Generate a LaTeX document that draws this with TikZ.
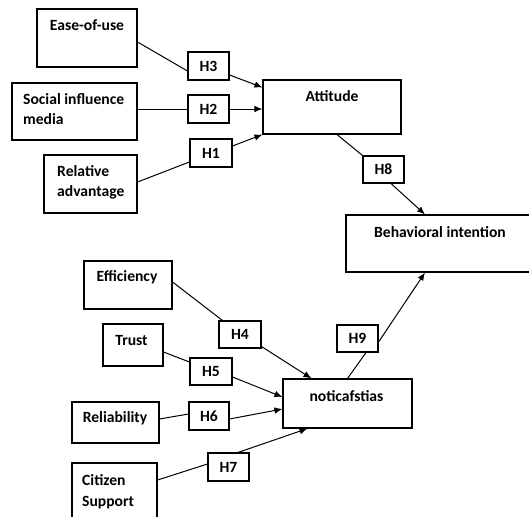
\documentclass[tikz,border=0pt]{standalone}
\usepackage{fontspec}
\setmainfont{Carlito}
\usetikzlibrary{arrows.meta}
\begin{document}
\begin{tikzpicture}[x=1pt,y=-1pt,
  box/.style={draw=black,line width=1.1pt,rectangle,inner sep=0pt},
  hbox/.style={draw=black,line width=1.1pt,rectangle,inner sep=0pt,minimum width=41pt,minimum height=28pt,font=\fontsize{15.6}{20}\selectfont\bfseries},
  txt/.style={inner sep=0pt,font=\fontsize{15.6}{20.5}\selectfont\bfseries},
  link/.style={draw=black,line width=1pt},
  arr/.style={draw=black,line width=1pt,-{Latex[length=8pt,width=6.5pt]}}]
\useasboundingbox (0,0) rectangle (529,516);
\clip (0,0) rectangle (529,516);
% construct boxes
\node[box,minimum width=100pt,minimum height=58pt] (ease) at (87,38) {};
\node[box,minimum width=125pt,minimum height=57pt] (social) at (74.5,111.5) {};
\node[box,minimum width=93pt,minimum height=58pt] (reladv) at (90.5,184) {};
\node[box,minimum width=138pt,minimum height=54pt] (att) at (332,107) {};
\node[box,minimum width=214pt,minimum height=57pt] (bi) at (453,243.5) {};
\node[box,minimum width=88pt,minimum height=48pt] (eff) at (128,285) {};
\node[box,minimum width=60pt,minimum height=42pt] (trust) at (133,345) {};
\node[box,minimum width=87pt,minimum height=41pt] (relia) at (115.5,422.5) {};
\node[box,minimum width=85pt,minimum height=77pt] (cit) at (114.5,501.5) {};
\node[box,minimum width=129pt,minimum height=49pt] (noti) at (347.5,403.5) {};
% texts
\node[txt] (tease) at (87,25) {Ease-of-use};
\node[txt,anchor=west,align=left] (tsocial) at (23,109) {Social influence\\media};
\node[txt,anchor=west,align=left] (trel) at (57,182.5) {Relative\\advantage};
\node[txt] (tatt) at (332,96) {Attitude};
\node[txt] (tbi) at (440,232) {Behavioral intention};
\node[txt] (teff) at (127,277) {Efficiency};
\node[txt] (ttrust) at (131.5,340) {Trust};
\node[txt] (trelia) at (115,418) {Reliability};
\node[txt] (tnoti) at (346.5,396) {noticafstias};
\node[txt,anchor=west,align=left] (tcit) at (82,491.5) {Citizen\\Support};
% hypothesis boxes
\node[hbox] (h3) at (208.5,66) {H3};
\node[hbox] (h2) at (208.5,109) {H2};
\node[hbox,minimum width=42pt] (h1) at (211,153) {H1};
\node[hbox,minimum height=27pt] (h8) at (383.5,169.5) {H8};
\node[hbox,minimum width=42pt,minimum height=27pt] (h4) at (240,334.5) {H4};
\node[hbox,minimum width=42pt,minimum height=27pt] (h5) at (211,371.5) {H5};
\node[hbox,minimum width=40pt] (h6) at (209,416) {H6};
\node[hbox] (h7) at (228.5,467) {H7};
\node[hbox,minimum height=27pt] (h9) at (357.5,338.5) {H9};
% connectors
\draw[link] ([yshift=-4pt]ease.east) -- ([yshift=-5pt]h3.west);
\draw[arr] ([yshift=-9pt]h3.east) -- ([yshift=-8pt]att.north west);
\draw[link] (social.east |- h2.west) -- (h2.west);
\draw[arr] (h2.east) -- (h2.east -| att.west);
\draw[link] ([yshift=2pt]reladv.east) -- ([yshift=-9pt]h1.west);
\draw[arr] ([yshift=7pt]h1.east) -- (att.south west);
\draw[link] ([xshift=5pt]att.south) -- (h8.north west);
\draw[arr] ([xshift=7.5pt]h8.south) -- ([xshift=-28pt]bi.north);
\draw[link] ([yshift=3pt]eff.east) -- ([xshift=4pt]h4.north west);
\draw[arr] ([yshift=2pt]h4.south east) -- ([xshift=29pt]noti.north west);
\draw[link] ([yshift=-7pt]trust.east) -- ([yshift=9.5pt]h5.west);
\draw[arr] ([yshift=-5.5pt]h5.east) -- ([yshift=6.5pt]noti.west);
\draw[link] ([yshift=3.5pt]relia.east) -- ([yshift=2pt]h6.west);
\draw[arr] ([yshift=-3pt]h6.east) -- ([yshift=-5.5pt]noti.west);
\draw[link] ([yshift=21.5pt]cit.east) -- ([yshift=3pt]h7.west);
\draw[arr] ([xshift=9.5pt]h7.north) -- ([xshift=25pt]noti.south west);
\draw[link] (noti.north) -- ([xshift=8.5pt]h9.south);
\draw[arr] ([yshift=-3.5pt]h9.east) -- ([xshift=-28pt]bi.south);
\end{tikzpicture}
\end{document}
